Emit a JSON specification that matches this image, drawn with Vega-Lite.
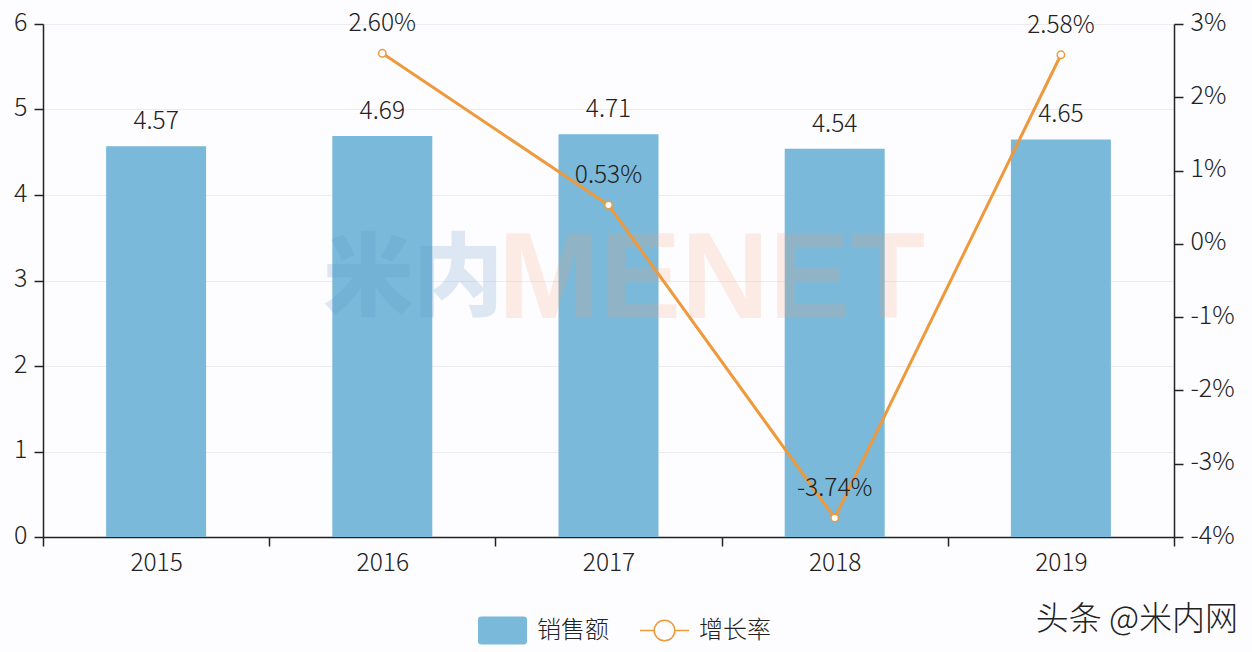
{
"$schema":"https://vega.github.io/schema/vega-lite/v6.json",
"width":1131,"height":513,
"autosize":{"type":"none"},
"padding":{"left":43,"top":24,"right":78,"bottom":115},
"background":"#fdfcfe",
"config":{"view":{"stroke":null},"font":"Noto Sans CJK SC"},
"title":{"text":"头条 @米内网","orient":"bottom","anchor":"end","offset":-41,"dx":4,"fontSize":33,"fontWeight":300,"color":"#222222","font":"Noto Sans CJK SC"},
"data":{"values":[
{"year":"2015","sales":4.57,"growth":null,"growthLabel":null},
{"year":"2016","sales":4.69,"growth":0.026,"growthLabel":"2.60%"},
{"year":"2017","sales":4.71,"growth":0.0053,"growthLabel":"0.53%"},
{"year":"2018","sales":4.54,"growth":-0.0374,"growthLabel":"-3.74%"},
{"year":"2019","sales":4.65,"growth":0.0258,"growthLabel":"2.58%"}
]},
"encoding":{
"x":{"field":"year","type":"nominal","scale":{"type":"band","paddingInner":0,"paddingOuter":0},
"axis":{"title":null,"labelAngle":0,"tickBand":"extent","domainColor":"#222222","domainWidth":1.5,"tickColor":"#222222","tickWidth":1.5,"tickSize":9,"labelFontSize":24.5,"labelFontWeight":300,"labelColor":"#222222","labelPadding":5,"grid":false}}
},
"layer":[
{"mark":{"type":"rule","opacity":0},
"encoding":{"y":{"field":"sales","type":"quantitative","scale":{"domain":[0,6]},
"axis":{"title":null,"values":[0,1,2,3,4,5,6],"grid":true,"gridColor":"#ececf0","gridWidth":1,"domainColor":"#222222","domainWidth":1.5,"tickColor":"#222222","tickWidth":1.5,"tickSize":9,"labelFontSize":25,"labelFontWeight":300,"labelColor":"#222222","labelPadding":7,"labelOffset":-2}}}},
{"mark":{"type":"bar","width":{"band":0.442}},
"encoding":{"y":{"field":"sales","type":"quantitative","scale":{"domain":[0,6]},"axis":null},
"fill":{"datum":"销售额","scale":{"domain":["销售额"],"range":["#7ab9d9"]},
"legend":{"title":null,"orient":"none","legendX":434,"legendY":581,"symbolType":"M-1,-.45 Q-1,-.57 -.85,-.57 H.85 Q1,-.57 1,-.45 V.45 Q1,.57 .85,.57 H-.85 Q-1,.57 -1,.45 Z","symbolSize":2401,"labelFontSize":24,"labelFontWeight":300,"labelColor":"#222222","labelOffset":9}}}},
{"data":{"values":[{"year":"2016","v":3,"t":"米内"}]},
"mark":{"type":"text","font":"Noto Sans CJK SC","fontWeight":900,"fontSize":90,"dx":31,"color":"#5b96c8","opacity":0.2},
"encoding":{"x":{"field":"year","type":"nominal"},"y":{"field":"v","type":"quantitative","scale":{"domain":[0,6]},"axis":null},"text":{"field":"t"}}},
{"data":{"values":[{"year":"2017","v":3,"t":"MENET"}]},
"mark":{"type":"text","font":"Liberation Sans","fontWeight":"bold","fontSize":122,"dx":103,"color":"#f7a072","opacity":0.18},
"encoding":{"x":{"field":"year","type":"nominal"},"y":{"field":"v","type":"quantitative","scale":{"domain":[0,6]},"axis":null},"text":{"field":"t"}}},
{"mark":{"type":"text","fontSize":24.5,"fontWeight":300,"color":"#222222","dy":-24},
"encoding":{"y":{"field":"sales","type":"quantitative","scale":{"domain":[0,6]},"axis":null},"text":{"field":"sales","type":"quantitative","format":".2f"}}},
{"transform":[{"filter":"datum.growth !== null"}],
"mark":{"type":"line","strokeWidth":3},
"encoding":{"y":{"field":"growth","type":"quantitative","scale":{"domain":[-0.04,0.03]},
"axis":{"orient":"right","title":null,"values":[-0.04,-0.03,-0.02,-0.01,0,0.01,0.02,0.03],"labelExpr":"replace(format(datum.value,'.0%'),'−','-')","grid":false,"domainColor":"#222222","domainWidth":1.5,"tickColor":"#222222","tickWidth":1.5,"tickSize":9,"labelFontSize":25,"labelFontWeight":300,"labelColor":"#222222","labelPadding":7,"labelOffset":-2}},
"stroke":{"datum":"增长率","scale":{"domain":["增长率"],"range":["#ee9a3c"]},
"legend":{"title":null,"orient":"none","legendX":596,"legendY":581,"symbolType":"M-1,0H-.42 M.42,0H1 M.42,0 A.42,.42 0 1 1 -.42,0 A.42,.42 0 1 1 .42,0","symbolSize":2401,"symbolStrokeWidth":1.5,"labelFontSize":24,"labelFontWeight":300,"labelColor":"#222222","labelOffset":9}}}},
{"transform":[{"filter":"datum.growth !== null"}],
"mark":{"type":"point","shape":"circle","size":55,"fill":"#ffffff","stroke":"#ee9a3c","strokeWidth":1.5,"opacity":1},
"encoding":{"y":{"field":"growth","type":"quantitative","scale":{"domain":[-0.04,0.03]},"axis":null}}},
{"transform":[{"filter":"datum.growth !== null"}],
"mark":{"type":"text","fontSize":24.5,"fontWeight":300,"color":"#222222","dy":-29},
"encoding":{"y":{"field":"growth","type":"quantitative","scale":{"domain":[-0.04,0.03]},"axis":null},"text":{"field":"growthLabel"}}}
],
"resolve":{"scale":{"y":"independent"},"axis":{"y":"independent"}}
}
